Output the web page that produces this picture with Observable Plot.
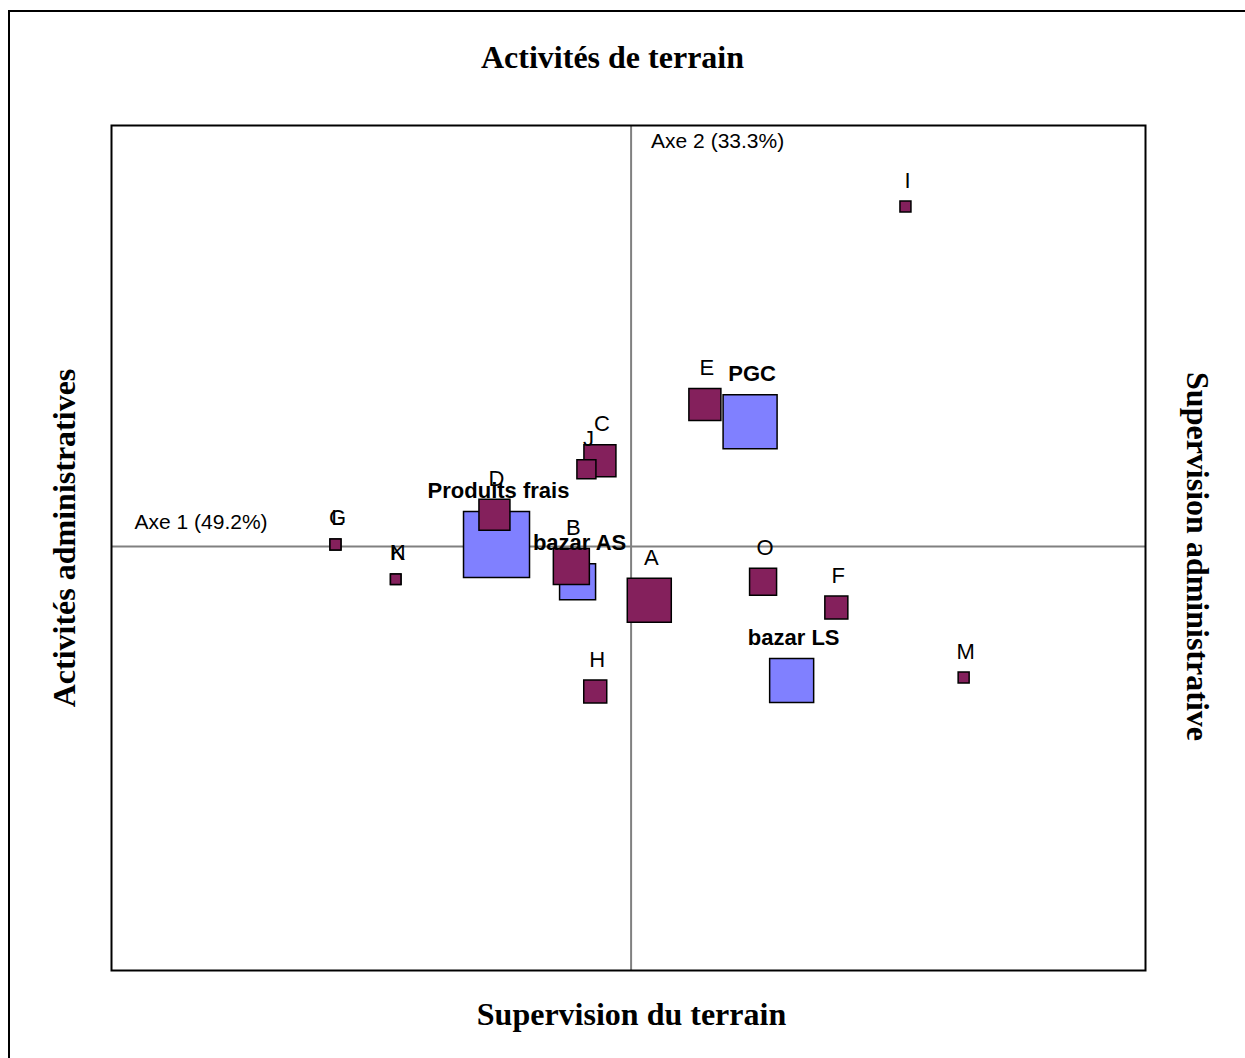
<!DOCTYPE html>
<html><head><meta charset="utf-8">
<script src="https://cdn.jsdelivr.net/npm/d3@7"></script>
<script src="https://cdn.jsdelivr.net/npm/@observablehq/plot@0.6"></script>
<style>
body{margin:0;background:#fff;overflow:hidden;width:1245px;height:1058px;}
#border{position:absolute;left:8px;top:10px;width:1300px;height:1100px;border:2px solid #000;}
#chart{position:absolute;left:0;top:0;}
</style></head><body>
<div id="border"></div>
<div id="chart"></div>
<script>
// Row points (blue)
const rowNames = ["Produits frais", "bazar AS", "PGC", "bazar LS"];
const rowAxe1  = [-0.259, -0.103, 0.229, 0.309];
const rowAxe2  = [0.005, -0.083, 0.294, -0.316];
const rowMass  = [66, 36, 54, 44];
// Column points (plum)
const colNames = ["A","B","C","D","E","F","G","H","I","J","K","L","M","N","O"];
const colAxe1  = [0.035,-0.115,-0.060,-0.263,0.142,0.395,-0.569,-0.069,0.528,-0.086,-0.453,-0.569,0.640,-0.453,0.254];
const colAxe2  = [-0.127,-0.047,0.202,0.075,0.335,-0.144,0.005,-0.342,0.802,0.182,-0.077,0.005,-0.309,-0.077,-0.083];
const colMass  = [44,36,32,31,32,23,11,23,11,19,10.5,11,11,10.5,27];

const titleTop = "Activités de terrain";
const titleBottom = "Supervision du terrain";
const titleLeft = "Activités administratives";
const titleRight = "Supervision administrative";
const axe1Label = "Axe 1 (49.2%)";
const axe2Label = "Axe 2 (33.3%)";

const rows = rowNames.map((n,i)=>({name:n, x:rowAxe1[i], y:rowAxe2[i], m:rowMass[i]}));
const cols = colNames.map((n,i)=>({name:n, x:colAxe1[i], y:colAxe2[i], m:colMass[i]}));

const SANS = "Liberation Sans, Arial, sans-serif";
const SERIF = "Liberation Serif, Times New Roman, serif";

const labelMarks = (data, bold) => data.map(d => Plot.text([d], {
  x:"x", y:"y", text:"name", dx:2, dy:-(d.m/2 + 20.5),
  fontSize:22, fontFamily:SANS, fontWeight: bold ? "bold" : "normal",
  fill:"#000", textAnchor:"middle", lineAnchor:"middle"
}));

const chart = Plot.plot({
  width:1245, height:1058,
  marginLeft:111, marginRight:100, marginTop:125, marginBottom:88,
  x:{domain:[-1,0.99], axis:null},
  y:{domain:[-1,0.993], axis:null},
  r:{type:"linear", domain:[0,100], range:[0,100/Math.sqrt(Math.PI)]},
  style:{background:"transparent", overflow:"visible"},
  marks:[
    Plot.ruleY([0], {stroke:"#808080", strokeWidth:2}),
    Plot.ruleX([0], {stroke:"#808080", strokeWidth:2}),
    Plot.dot(rows, {x:"x", y:"y", r:"m", symbol:"square", fill:"#8080FF", fillOpacity:1, stroke:"#000", strokeWidth:1.5}),
    Plot.dot(cols, {x:"x", y:"y", r:"m", symbol:"square", fill:"#84205C", fillOpacity:1, stroke:"#000", strokeWidth:1.5}),
    ...labelMarks(cols, false),
    ...labelMarks(rows, true),
    Plot.text([axe1Label], {x:()=>-1, y:()=>0, textAnchor:"start", dx:23, dy:-24, fontSize:21, fontFamily:SANS, fill:"#000"}),
    Plot.text([axe2Label], {x:()=>0, y:()=>0.993, textAnchor:"start", dx:20, dy:16, fontSize:21, fontFamily:SANS, fill:"#000"}),
    Plot.frame({stroke:"#000", strokeWidth:2}),
    Plot.text([titleTop], {frameAnchor:"top", dx:-16, dy:-68, lineAnchor:"middle", fontSize:32, fontWeight:"bold", fontFamily:SERIF, fill:"#000"}),
    Plot.text([titleBottom], {frameAnchor:"bottom", dx:3, dy:44, lineAnchor:"middle", fontSize:32, fontWeight:"bold", fontFamily:SERIF, fill:"#000"}),
    Plot.text([titleLeft], {frameAnchor:"left", rotate:-90, dx:-47, dy:-10, lineAnchor:"middle", textAnchor:"middle", fontSize:32, fontWeight:"bold", fontFamily:SERIF, fill:"#000"}),
    Plot.text([titleRight], {frameAnchor:"right", rotate:90, dx:52, dy:8.5, lineAnchor:"middle", textAnchor:"middle", fontSize:32, fontWeight:"bold", fontFamily:SERIF, fill:"#000"})
  ]
});
document.getElementById("chart").appendChild(chart);
</script>
</body></html>
